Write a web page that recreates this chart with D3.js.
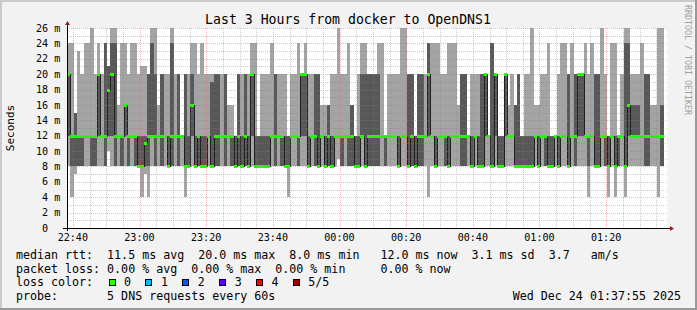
<!DOCTYPE html>
<html>
<head>
<meta charset="utf-8">
<script src="https://cdn.jsdelivr.net/npm/d3@7"></script>
<style>
  body { margin: 0; background: #f2f2f2; }
  text { font-family: "DejaVu Sans Mono", monospace; white-space: pre; fill: #000; }
</style>
</head>
<body>
<svg id="chart"></svg>
<script>
// one column per minute, 5 DNS pings sorted: min, 2nd, median, 4th, max (ms)
const pingMin = [
  8,4,7,8,8,8,8,8,8,8, 8,8,10,8,8,8,8,8,8,8, 8,8,4,7,4,8,8,8,8,8, 8,8,8,8,8,4,8,8,8,8,
  8,8,8,8,8,8,8,8,8,8, 8,8,8,8,8,8,8,8,8,8, 8,8,8,8,8,8,4,8,8,8, 8,8,8,8,8,8,8,8,8,8,
  8,9,8,8,8,8,8,8,8,8, 8,8,8,8,8,8,8,8,8,8, 8,8,8,8,8,8,8,8,4,8, 8,8,8,8,8,8,8,8,8,8,
  8,8,8,8,8,8,8,8,8,8, 8,8,8,8,8,8,8,8,8,8, 8,8,8,8,8,8,8,8,8,8, 8,8,8,8,8,8,4,8,8,8,
  8,8,4,8,4,8,8,4,8,8, 8,8,8,8,8,8,8,4,8
];
const pingQ1 = [
  12,8,8,8,8,12,12,8,8,12, 12,8,12,12,8,12,8,12,8,12, 8,8,8,8,8,12,8,12,8,12, 8,8,12,8,12,8,8,12,8,8,
  8,8,12,8,8,8,12,8,12,8, 8,8,8,8,8,12,8,8,8,8, 8,12,8,12,8,8,8,12,12,8, 12,12,8,12,8,8,12,8,8,8,
  12,12,8,12,8,8,8,8,12,8, 8,8,8,8,12,8,12,12,12,8, 12,12,8,8,8,8,8,12,12,12, 8,12,12,8,8,12,12,12,8,8,
  12,8,12,8,8,12,12,8,12,8, 8,12,12,12,8,8,8,8,8,8, 12,8,12,8,8,8,12,8,12,12, 8,12,8,12,12,12,8,12,8,8,
  12,8,8,12,8,8,12,8,12,12, 12,12,12,8,8,12,12,12,8
];
const median = [
  20,12,12,12,12,12,12,12,12,20, 12,12,18,20,12,12,12,16,12,12, 12,8,8,11,12,12,12,12,12,12, 8,12,12,12,12,8,8,16,8,12,
  8,8,12,8,12,12,12,12,12,12, 8,12,8,12,8,20,8,8,8,8, 8,12,12,12,12,8,8,12,12,12, 20,20,8,12,12,8,12,8,12,8,
  12,12,12,12,12,12,8,8,12,8, 12,12,12,12,12,12,12,12,12,8, 12,12,8,12,8,12,12,12,20,12, 8,12,12,12,8,12,12,12,12,12,
  12,8,12,8,8,20,12,8,20,8, 8,20,12,12,8,8,8,8,8,8, 12,8,12,12,8,8,12,8,12,12, 8,12,12,20,20,12,12,12,8,8,
  12,12,8,12,8,12,12,8,16,12, 12,12,12,12,12,12,12,12,12
];
const pingQ3 = [
  20,12,15,12,12,12,12,12,12,20, 12,24,21,24,24,12,12,16,12,12, 12,12,12,12,20,24,20,12,20,12, 12,24,12,20,12,20,12,20,12,12,
  12,12,12,19,20,20,12,20,12,12, 12,20,12,20,12,20,12,12,12,12, 12,12,20,12,12,12,12,12,12,12, 20,20,12,12,20,20,12,12,16,12,
  12,12,12,12,12,16,12,12,20,20, 20,20,20,20,12,12,12,12,12,12, 12,12,20,20,12,20,20,12,24,12, 12,12,12,12,12,12,12,12,20,20,
  12,12,12,12,20,20,12,24,20,12, 12,20,12,12,16,20,12,12,12,12, 12,12,12,12,12,12,12,12,12,12, 20,12,20,20,20,12,12,12,20,20,
  12,12,12,12,12,12,12,24,24,16, 16,16,12,20,20,12,12,12,16
];
const pingMax = [
  24,24,15,23,20,24,24,26,20,24, 20,24,21,26,26,16,24,24,20,24, 24,20,21,21,20,26,26,16,20,20, 20,26,20,20,12,20,20,24,24,20,
  24,20,20,20,20,20,20,20,16,16, 12,20,20,20,20,24,24,12,20,20, 20,24,20,20,20,20,12,20,20,24, 20,24,20,20,20,20,16,16,16,20,
  20,26,20,20,24,16,12,20,24,24, 20,20,20,24,24,12,20,20,20,20, 26,26,20,20,12,20,20,20,24,24, 24,24,20,20,24,24,24,16,20,20,
  12,20,20,20,20,20,12,24,20,12, 12,20,16,20,16,20,12,20,20,26, 16,16,20,20,24,12,12,20,24,24, 20,24,20,20,20,24,20,24,20,20,
  26,20,12,24,24,12,20,26,26,20, 20,20,24,20,20,16,16,26,26
];

const yTicks = [0, 2, 4, 6, 8, 10, 12, 14, 16, 18, 20, 22, 24, 26];
const lossLevels = ["0", "1", "2", "3", "4", "5/5"];
const lossColors = ["#26ff00", "#00b8ff", "#0059ff", "#5e00ff", "#ff0000", "#a00000"];
const titleText = "Last 3 Hours from docker to OpenDNS1";
const legendLines = [
  "median rtt:  11.5 ms avg  20.0 ms max  8.0 ms min   12.0 ms now  3.1 ms sd  3.7   am/s",
  "packet loss: 0.00 % avg  0.00 % max  0.00 % min     0.00 % now",
  "loss color:",
  "probe:       5 DNS requests every 60s"
];
const stampText = "Wed Dec 24 01:37:55 2025";

const W = 697, H = 310;
const plot = { left: 67, top: 28, width: 600, height: 200 };

const svg = d3.select("#chart").attr("width", W).attr("height", H);

// background + shaded frame
svg.append("rect").attr("width", W).attr("height", H).attr("fill", "#f2f2f2");
svg.append("path").attr("d", `M0,${H} V0 H${W}`).attr("fill", "none")
  .attr("stroke", "#cbcbcb").attr("stroke-width", 4);
svg.append("path").attr("d", `M0,${H} H${W} V0`).attr("fill", "none")
  .attr("stroke", "#999999").attr("stroke-width", 4);

const t0 = new Date(2025, 11, 23, 22, 38, 15);
const t1 = new Date(t0.getTime() + 180 * 60000);
const x = d3.scaleTime().domain([t0, t1]).range([plot.left, plot.left + plot.width]);
const y = d3.scaleLinear().domain([0, 26]).range([plot.top + plot.height, plot.top]);

const g = svg.append("g").attr("shape-rendering", "crispEdges");
g.append("rect").attr("x", plot.left).attr("y", plot.top)
  .attr("width", plot.width).attr("height", plot.height).attr("fill", "#ffffff");

const cols = median.map((m, i) => {
  const xa = Math.round(x(new Date(t0.getTime() + i * 60000)));
  const xb = Math.round(x(new Date(t0.getTime() + (i + 1) * 60000)));
  return { i, xa, xb, lo: pingMin[i], q1: pingQ1[i], med: m, q3: pingQ3[i], hi: pingMax[i] };
});

// outer smoke (min..max)
g.selectAll(".smoke1").data(cols).enter().append("rect")
  .attr("x", d => d.xa).attr("width", d => d.xb - d.xa)
  .attr("y", d => Math.round(y(d.hi))).attr("height", d => Math.round(y(d.lo)) - Math.round(y(d.hi)))
  .attr("fill", "#a4a4a4");
// inner smoke (2nd..4th)
g.selectAll(".smoke2").data(cols.filter(d => d.q3 > d.q1)).enter().append("rect")
  .attr("x", d => d.xa).attr("width", d => d.xb - d.xa)
  .attr("y", d => Math.round(y(d.q3))).attr("height", d => Math.round(y(d.q1)) - Math.round(y(d.q3)))
  .attr("fill", "#585858");

// thin median step line
let dPath = "";
cols.forEach((d, k) => {
  const yy = Math.round(y(d.med)) + 0.5;
  dPath += (k === 0 ? `M${d.xa},${yy}` : `V${yy}`) + `H${d.xb}`;
});
g.append("path").attr("d", dPath).attr("fill", "none").attr("stroke", "#202020").attr("stroke-width", 1);

// median coloured by loss (all 0 %)
g.selectAll(".med").data(cols).enter().append("rect")
  .attr("x", d => d.xa).attr("width", d => d.xb - d.xa)
  .attr("y", d => Math.round(y(d.med)) - 1).attr("height", 3)
  .attr("fill", lossColors[0]);

// grid
const grid = svg.append("g").attr("shape-rendering", "crispEdges");
const minorCol = "rgba(128,128,128,0.4)", majorCol = "rgba(255,80,80,0.45)";
d3.range(1, 27).filter(v => v % 2 === 1).forEach(v => {
  grid.append("line").attr("x1", plot.left).attr("x2", plot.left + plot.width)
    .attr("y1", Math.round(y(v)) + 0.5).attr("y2", Math.round(y(v)) + 0.5)
    .attr("stroke", minorCol).attr("stroke-dasharray", "1,1");
});
yTicks.filter(v => v > 0).forEach(v => {
  grid.append("line").attr("x1", plot.left).attr("x2", plot.left + plot.width)
    .attr("y1", Math.round(y(v)) + 0.5).attr("y2", Math.round(y(v)) + 0.5)
    .attr("stroke", majorCol).attr("stroke-dasharray", "1,1");
});
const minorT = x.ticks(d3.timeMinute.every(5)).filter(t => t.getMinutes() % 20 !== 0);
const majorT = x.ticks(d3.timeMinute.every(20));
minorT.forEach(t => {
  const xx = Math.round(x(t)) + 0.5;
  grid.append("line").attr("x1", xx).attr("x2", xx).attr("y1", plot.top).attr("y2", plot.top + plot.height)
    .attr("stroke", minorCol).attr("stroke-dasharray", "1,1");
});
majorT.forEach(t => {
  const xx = Math.round(x(t)) + 0.5;
  grid.append("line").attr("x1", xx).attr("x2", xx).attr("y1", plot.top).attr("y2", plot.top + plot.height)
    .attr("stroke", majorCol).attr("stroke-dasharray", "1,1");
});

// axes
const axisY = plot.top + plot.height;
svg.append("line").attr("x1", plot.left - 4).attr("x2", plot.left + plot.width + 4)
  .attr("y1", axisY + 0.5).attr("y2", axisY + 0.5).attr("stroke", "#000").attr("shape-rendering", "crispEdges");
svg.append("line").attr("x1", plot.left + 0.5).attr("x2", plot.left + 0.5)
  .attr("y1", axisY + 3).attr("y2", plot.top - 4).attr("stroke", "#000").attr("shape-rendering", "crispEdges");
svg.append("path").attr("d", `M${plot.left + 0.5},${plot.top - 7} l-2.5,4 h5 z`).attr("fill", "#9a1c1c");
svg.append("path").attr("d", `M${plot.left + plot.width + 7},${axisY + 0.5} l-4,-2.5 v5 z`).attr("fill", "#9a1c1c");

// tick labels
svg.append("g").selectAll("text").data(yTicks).enter().append("text")
  .attr("x", 36).attr("y", d => y(d) + 3.6)
  .style("font-size", "10.1px")
  .text(d => (d < 10 ? " " : "") + d + (d === 0 ? "  " : " m"));

const fmt = d3.timeFormat("%H:%M");
svg.append("g").selectAll("text").data(majorT).enter().append("text")
  .attr("x", d => x(d)).attr("y", 240.8).attr("text-anchor", "middle")
  .style("font-size", "10.1px")
  .text(d => fmt(d));

// titles
svg.append("text").attr("x", 348).attr("y", 23.5).attr("text-anchor", "middle")
  .style("font-size", "13.2px").text(titleText);
svg.append("text").attr("transform", "translate(14,128) rotate(-90)").attr("text-anchor", "middle")
  .style("font-size", "11px").text("Seconds");
svg.append("text").attr("transform", "translate(685,5) rotate(90)")
  .style("font-size", "8.3px").style("fill", "#a0a0a0").text("RRDTOOL / TOBI OETIKER");

// legend
const legY = [259, 272.7, 286.4, 300];
legendLines.forEach((s, k) => {
  svg.append("text").attr("x", 16).attr("y", legY[k]).style("font-size", "11.65px").text(s);
});
const leg = svg.append("g");
lossLevels.forEach((lab, k) => {
  const bx = 108.5 + k * 36.85;
  leg.append("rect").attr("x", Math.round(bx) + 0.5).attr("y", 279.5).attr("width", 6).attr("height", 6)
    .attr("fill", lossColors[k]).attr("stroke", "#000").attr("shape-rendering", "crispEdges");
  leg.append("text").attr("x", bx + 15.6).attr("y", legY[2]).style("font-size", "11.65px").text(lab);
});
svg.append("text").attr("x", 681).attr("y", legY[3]).attr("text-anchor", "end")
  .style("font-size", "11.65px").text(stampText);
</script>
</body>
</html>
